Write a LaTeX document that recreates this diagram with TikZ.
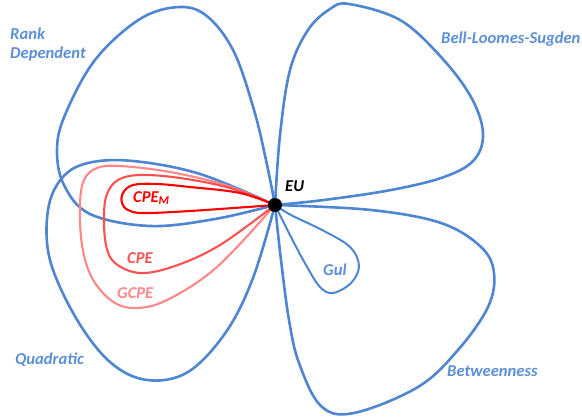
\documentclass[tikz,border=0pt]{standalone}
\usepackage{fontspec}
\setmainfont{Carlito}
\definecolor{lblue}{RGB}{79,134,210}
\definecolor{tblue}{RGB}{91,143,214}
\definecolor{cpem}{RGB}{255,0,0}
\definecolor{cpe}{RGB}{255,80,80}
\definecolor{gcpe}{RGB}{255,135,135}
\begin{document}
\begin{tikzpicture}[x=1pt,y=-1pt,
  bloop/.style={draw=lblue,line width=2.6pt,line join=round},
  rloop/.style={line width=2.1pt,line join=round},
  lab/.style={inner sep=0pt,anchor=base west,font=\fontsize{16.6}{19}\selectfont\bfseries\itshape},
  curvy/.style={smooth,tension=0.6}]
\useasboundingbox (0,0) rectangle (582,420);
\coordinate (O) at (275,205);
% Rank Dependent
\draw[bloop] plot[curvy] coordinates {(275,205) (266,160) (254,110) (234,52) (208,17) (180,7) (140,19) (95,60) (65,115) (57,150) (64,185) (90,214) (150,226) (215,219) (275,205)};
% Quadratic
\draw[bloop] plot[curvy] coordinates {(275,205) (200,174) (133,161) (88,163) (62,178) (48,210) (50,260) (76,318) (110,362) (147,380) (188,372) (226,332) (253,278) (275,205)};
% Bell-Loomes-Sugden
\draw[bloop] plot[curvy] coordinates {(275,205) (280,135) (290,70) (308,30) (330,9) (349,4) (400,20) (441,57) (471,97) (483,133) (474,160) (444,177) (391,190) (324,200) (275,205)};
% Betweenness
\draw[bloop] plot[curvy] coordinates {(275,205) (371,210) (441,223) (481,247) (494,273) (488,307) (458,350) (418,387) (354,413) (321,406) (299,363) (289,320) (281,260) (275,205)};
% Gul
\draw[bloop,line width=2pt] plot[curvy] coordinates {(275,205) (291,215) (324,231) (350,247) (359,266) (351,283) (333,293) (320,287) (306,265) (291,237) (275,205)};
% GCPE
\draw[rloop,draw=gcpe] plot[curvy] coordinates {(275,205) (225,185) (170,172) (120,166) (97,168) (84,180) (80,205) (82,245) (92,278) (112,301) (135,308) (167,300) (217,267) (275,205)};
% CPE
\draw[rloop,draw=cpe] plot[curvy] coordinates {(275,205) (230,188) (180,178) (140,175) (118,180) (107,194) (104,215) (106,245) (115,263) (140,273) (175,266) (220,245) (275,205)};
% CPE_M
\draw[rloop,draw=cpem] plot[curvy] coordinates {(275,205) (240,193) (190,187) (157,184) (133,185) (123,193) (122,203) (128,210) (143,213) (190,211) (275,205)};
\node[circle,fill=black,inner sep=0pt,minimum size=14pt] (eudot) at (O) {};
% labels
\node[lab,text=tblue] (rank) at (10,40) {Rank};
\node[lab,text=tblue] (dep) at (10,59) {Dependent};
\node[lab,text=tblue] (bls) at (441,44) {Bell-Loomes-Sugden};
\node[lab,text=black] (eu) at (285,191) {EU};
\node[lab,text=cpem] (cpemlab) at (133,202) {CPE$_{\mbox{\fontsize{12}{13}\selectfont\bfseries\itshape M}}$};
\node[lab,text=cpe] (cpelab) at (127,263) {CPE};
\node[lab,text=gcpe] (gcpelab) at (117,298) {GCPE};
\node[lab,text=tblue] (quad) at (15,364) {Quadratic};
\node[lab,text=tblue] (gul) at (323,275) {Gul};
\node[lab,text=tblue] (betw) at (447,376) {Betweenness};
\end{tikzpicture}
\end{document}
